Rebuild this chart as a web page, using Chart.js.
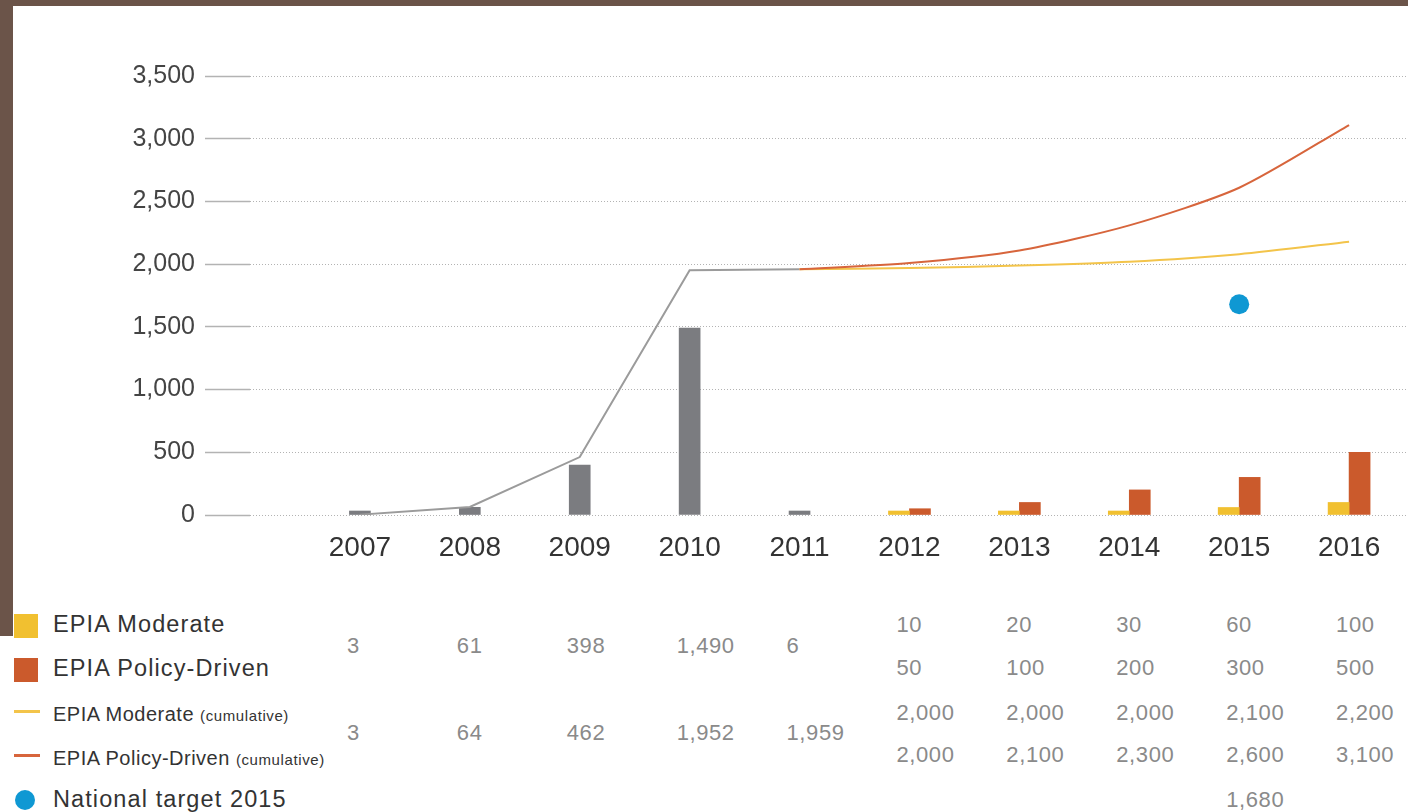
<!DOCTYPE html>
<html>
<head>
<meta charset="utf-8">
<script src="https://cdn.jsdelivr.net/npm/chart.js@4.4.1/dist/chart.umd.min.js"></script>
<style>
html, body { margin:0; padding:0; background:#fff; overflow:hidden; width:1408px; height:812px; }
body { position:relative; font-family:"Liberation Sans", Arial, sans-serif; }
#wrap { position:absolute; left:0; top:0; width:1469px; height:580px; }
.edge { position:absolute; background:#6b5449; z-index:5; }
.lg { position:absolute; left:53px; white-space:nowrap; line-height:1; transform:translateY(-50%); color:#333; }
.big { font-size:23.5px; letter-spacing:1.1px; }
.mid { font-size:20px; letter-spacing:0.5px; }
.mid small { font-size:15px; letter-spacing:0.6px; }
.mark { position:absolute; }
.num { position:absolute; white-space:nowrap; line-height:1; transform:translateY(-50%);
       font-size:22px; letter-spacing:0.6px; color:#8a8a8a; }
</style>
</head>
<body>
<div class="edge" style="left:0;top:0;width:1408px;height:6px"></div>
<div class="edge" style="left:0;top:0;width:13px;height:636px"></div>
<div id="wrap"><canvas id="pv-chart"></canvas></div>
<div id="table"></div>
<script>
// annual and cumulative installations, MW
const years = ['2007', '2008', '2009', '2010', '2011', '2012', '2013', '2014', '2015', '2016'];
const histYears = ['2007', '2008', '2009', '2010', '2011'];
const histAnnual = [3, 61, 398, 1490, 6];
const histCumulative = [3, 64, 462, 1952, 1959];
const fcYears = ['2012', '2013', '2014', '2015', '2016'];
const moderateAnnual = [10, 20, 30, 60, 100];
const policyAnnual = [50, 100, 200, 300, 500];
// lines as drawn (start from 2011 total)
const lineYears = ['2011', '2012', '2013', '2014', '2015', '2016'];
const moderateLine = [1959, 1969, 1989, 2019, 2079, 2179];
const policyLine = [1959, 2009, 2109, 2309, 2609, 3109];
// rounded figures printed in the table
const moderateCumTable = [2000, 2000, 2000, 2100, 2200];
const policyCumTable = [2000, 2100, 2300, 2600, 3100];
const targetYear = '2015';
const targetValue = 1680;
const yTicks = [0, 500, 1000, 1500, 2000, 2500, 3000, 3500];

const labels = [''].concat(years, ['']);

function onYears(ys, vals) {
    return labels.map(function (l) {
        const i = ys.indexOf(l);
        return i < 0 ? null : vals[i];
    });
}

const fmt = function (v) { return Number(v).toLocaleString('en-US'); };

const chart = new Chart('pv-chart', {
    data: {
        labels: labels,
        datasets: [
            { type: 'line', label: 'National target 2015', data: onYears([targetYear], [targetValue]),
              showLine: false, pointRadius: 10, pointHoverRadius: 10, pointBackgroundColor: '#0f98d3',
              pointBorderWidth: 0, order: 0 },
            { type: 'line', label: 'EPIA Policy-Driven (cumulative)', data: onYears(lineYears, policyLine),
              borderColor: '#d7653c', borderWidth: 2, pointRadius: 0, tension: 0.25, order: 1 },
            { type: 'line', label: 'EPIA Moderate (cumulative)', data: onYears(lineYears, moderateLine),
              borderColor: '#f3c44a', borderWidth: 2, pointRadius: 0, tension: 0.25, order: 2 },
            { type: 'line', label: 'Cumulative', data: onYears(histYears, histCumulative),
              borderColor: '#9b9b9b', borderWidth: 2, pointRadius: 0, tension: 0, order: 3 },
            { type: 'bar', label: 'Annual', data: onYears(histYears, histAnnual),
              backgroundColor: '#7b7c80', order: 4 },
            { type: 'bar', label: 'EPIA Moderate', data: onYears(fcYears, moderateAnnual),
              backgroundColor: '#f1c030', order: 4 },
            { type: 'bar', label: 'EPIA Policy-Driven', data: onYears(fcYears, policyAnnual),
              backgroundColor: '#cb5a2c', order: 4 }
        ]
    },
    options: {
        responsive: true,
        maintainAspectRatio: false,
        animation: false,
        spanGaps: false,
        layout: { padding: { top: 76, left: 0, right: 0, bottom: 0 } },
        datasets: { bar: { barThickness: 21, skipNull: true, grouped: true, minBarLength: 4 } },
        plugins: { legend: { display: false }, tooltip: { enabled: false } },
        scales: {
            x: {
                type: 'category',
                offset: false,
                grid: { display: false },
                border: { display: false },
                ticks: { autoSkip: false, maxRotation: 0, padding: 8,
                         font: { family: 'Liberation Sans', size: 28 }, color: '#333' },
                afterFit: function (s) { s.height = 65; }
            },
            y: {
                min: 0, max: 3500,
                afterBuildTicks: function (s) { s.ticks = yTicks.map(function (v) { return { value: v }; }); },
                grid: { color: '#b3b3b3', lineWidth: 1, tickLength: 45, tickColor: '#b3b3b3',
                        tickWidth: 1.5, tickBorderDash: [] },
                border: { display: false, dash: [1, 2] },
                ticks: { padding: 10, callback: fmt,
                         font: { family: 'Liberation Sans', size: 25 }, color: '#444' },
                afterFit: function (s) { s.width = 250; }
            }
        }
    }
});

// legend + data table underneath
const table = document.getElementById('table');
const xs = chart.scales.x;
function colX(year) { return xs.getPixelForValue(labels.indexOf(year)) - 13; }

function put(html, cls, x, y) {
    const d = document.createElement('div');
    d.className = cls;
    d.style.left = x + 'px';
    d.style.top = y + 'px';
    d.innerHTML = html;
    table.appendChild(d);
}
function row(ys, vals, y) {
    ys.forEach(function (yr, i) { put(fmt(vals[i]), 'num', colX(yr), y); });
}

function mark(css) {
    const d = document.createElement('div');
    d.className = 'mark';
    d.style.cssText = css;
    table.appendChild(d);
}
mark('left:14px;top:614px;width:24px;height:24px;background:#f1c030');
mark('left:14px;top:658px;width:24px;height:24px;background:#cb5a2c');
mark('left:14px;top:710px;width:26px;height:3px;background:#f3c44a');
mark('left:14px;top:754px;width:26px;height:3px;background:#d7653c');
mark('left:15px;top:790px;width:20px;height:20px;border-radius:50%;background:#0f98d3');

put('EPIA Moderate', 'lg big', 53, 625);
put('EPIA Policy-Driven', 'lg big', 53, 669);
put('EPIA Moderate <small>(cumulative)</small>', 'lg mid', 53, 714);
put('EPIA Policy-Driven <small>(cumulative)</small>', 'lg mid', 53, 758);
put('National target 2015', 'lg big', 53, 800);

row(fcYears, moderateAnnual, 625);
row(histYears, histAnnual, 646);
row(fcYears, policyAnnual, 668);
row(fcYears, moderateCumTable, 713);
row(histYears, histCumulative, 733);
row(fcYears, policyCumTable, 755);
row([targetYear], [targetValue], 800);
</script>
</body>
</html>
